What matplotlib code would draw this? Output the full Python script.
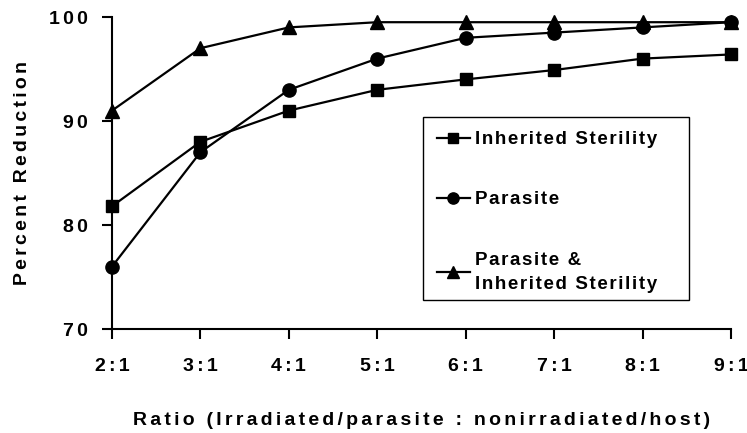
import matplotlib
matplotlib.use("Agg")
import matplotlib.pyplot as plt
from matplotlib.patches import Rectangle

plt.rcParams['font.family'] = ['Liberation Sans', 'DejaVu Sans']
plt.rcParams['font.weight'] = 'bold'

categories = ["2:1", "3:1", "4:1", "5:1", "6:1", "7:1", "8:1", "9:1"]
inherited = [81.8, 88.0, 91.0, 93.0, 94.0, 94.9, 96.0, 96.4]
parasite = [76.0, 87.0, 93.0, 96.0, 98.0, 98.5, 99.0, 99.5]
combined = [91.0, 97.0, 99.0, 99.5, 99.5, 99.5, 99.5, 99.5]
yticks = [70, 80, 90, 100]
series_labels = ['Inherited Sterility', 'Parasite', 'Parasite &\nInherited Sterility']
xlabel = 'Ratio (Irradiated/parasite : nonirradiated/host)'
ylabel = 'Percent Reduction'


def wide(s, sep='\u2006'):
    return '\n'.join(sep.join(line) for line in s.split('\n'))


W, H = 747, 433
fig = plt.figure(figsize=(W / 100, H / 100), dpi=100)
ax = fig.add_axes([112 / W, 1 - 329 / H, 619 / W, 312 / H])
x = list(range(len(categories)))
ax.plot(x, inherited, color='black', marker='s', ms=9, lw=1.6, label=wide(series_labels[0], '\u200a'), clip_on=False)
ax.plot(x, parasite, color='black', marker='o', ms=9.5, lw=1.6, label=wide(series_labels[1], '\u200a'), clip_on=False)
ax.plot(x, combined, color='black', marker='^', ms=10.5, lw=1.6, label=wide(series_labels[2], '\u200a'), clip_on=False)

ax.set_xlim(0, len(categories) - 1)
ax.set_ylim(70, 100)
ax.set_xticks(x)
ax.set_xticklabels([wide(c) for c in categories], fontsize=14, fontweight='bold')
ax.set_yticks(yticks)
ax.set_yticklabels([wide(str(v)) for v in yticks], fontsize=14, fontweight='bold')
for s in ['top', 'right']:
    ax.spines[s].set_visible(False)
for s in ['left', 'bottom']:
    ax.spines[s].set_linewidth(1.5)
ax.tick_params(direction='out', length=7.2, width=1.5)
ax.tick_params(axis='y', pad=10.5)
ax.tick_params(axis='x', pad=14)
ax.set_ylabel(wide(ylabel), fontsize=14, fontweight='bold')
ax.set_xlabel(wide(xlabel), fontsize=14, fontweight='bold')
ax.yaxis.set_label_coords((31 - 112) / 619, 0.5)
ax.xaxis.set_label_coords(0.5, (329 - 412) / 312)

leg = ax.legend(loc='upper left', bbox_to_anchor=(423 / W, 1 - 117 / H), bbox_transform=fig.transFigure,
                frameon=False, fontsize=13.5, handlelength=1.75,
                labelspacing=2.3, handletextpad=0.27, borderpad=0.75, borderaxespad=0, markerscale=0.85)
for t in leg.get_texts():
    t.set_linespacing(1.6)
    t.set_fontweight('bold')
fig.patches.append(Rectangle((423 / W, 1 - 300 / H), (689 - 423) / W, (300 - 117) / H,
                             transform=fig.transFigure, fill=False, edgecolor='black', lw=1.0))

fig.savefig('out.png', dpi=100)
